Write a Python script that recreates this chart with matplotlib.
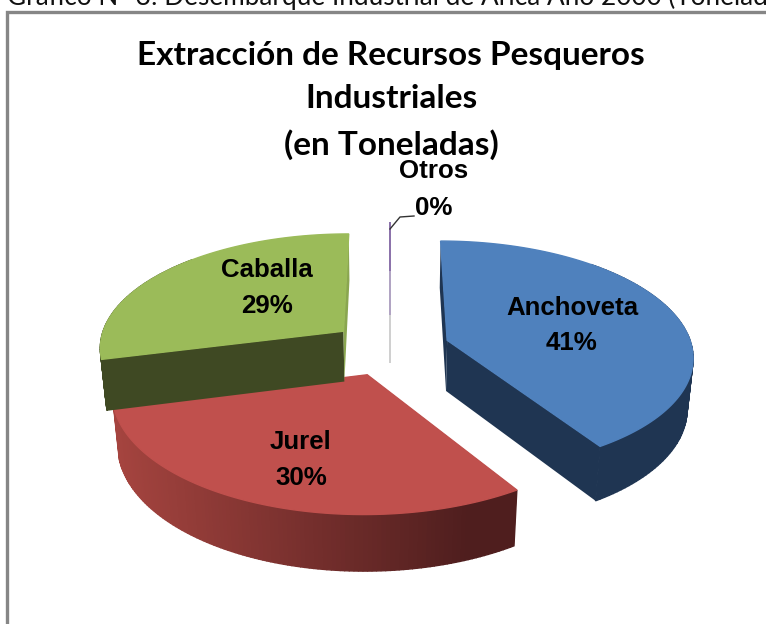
import matplotlib
matplotlib.use('Agg')
import matplotlib.pyplot as plt
from matplotlib.patches import Polygon
from matplotlib.colors import to_rgb
import numpy as np

# shares
categories = ['Anchoveta', 'Jurel', 'Caballa', 'Otros']
shares = [41, 30, 29, 0]
top_colors = ['#4F81BD', '#C0504D', '#9BBB59', '#8064A2']
side_colors = ['#1F3552', '#A5443F', '#3F4923', '#8064A2']
title_lines = ['Extracción de Recursos Pesqueros', 'Industriales', '(en Toneladas)']
caption = 'Gráfico N° 3: Desembarque Industrial de Arica Año 2000 (Toneladas)'

# pie projection, in pixels of the picture
cx, cy = 390, 348
a, b = 245, 114
k = 0.13       # perspective
depth = 52
explode = 0.245


def project(X, Y, h=0.0):
    s = 1.0 / (1 + k * Y + 0.02 * h)
    return cx + a * X * s, cy - (b * Y - depth * h) * s


def lerp(c1, c2, f):
    c1, c2 = np.array(to_rgb(c1)), np.array(to_rgb(c2))
    return tuple(c1 + (c2 - c1) * f)


fig = plt.figure(figsize=(7.66, 6.24), dpi=100)
ax = fig.add_axes([0, 0, 1, 1])
ax.set_xlim(0, 766)
ax.set_ylim(624, 0)
ax.axis('off')

ends = np.cumsum(shares) / np.sum(shares) * 2 * np.pi
starts = ends - np.array(shares) / np.sum(shares) * 2 * np.pi


def draw_slice(i):
    t1, t2 = starts[i], ends[i]
    mid = (t1 + t2) / 2
    ox, oy = explode * np.sin(mid), explode * np.cos(mid)
    th = np.linspace(t1, t2, 120)
    rx, ry = ox + np.sin(th), oy + np.cos(th)

    # radial faces first, they sit behind the rim
    for t in (t1, t2):
        ex, ey = ox + np.sin(t), oy + np.cos(t)
        pts = [project(ox, oy), project(ex, ey), project(ex, ey, 1), project(ox, oy, 1)]
        col = side_colors[i] if i != 2 or t != t2 else '#8AA650'
        if i == 1:
            col = '#4F1E1E' if t == t1 else '#A5443F'
        ax.add_patch(Polygon(pts, closed=True, fc=col, ec='none', zorder=2 + i))

    # outer rim in small pieces so the red one can carry its gradient
    for j in range(len(th) - 1):
        if ry[j] + ry[j + 1] > 2 * oy + 0.3 and abs(rx[j]) < 0.9 and i != 1:
            continue
        pts = [project(rx[j], ry[j]), project(rx[j + 1], ry[j + 1]),
               project(rx[j + 1], ry[j + 1], 1), project(rx[j], ry[j], 1)]
        if i == 1:
            f = np.clip((pts[0][0] - 115) / (470 - 115), 0, 1)
            col = lerp('#A5443F', '#4F1E1E', f)
        else:
            col = side_colors[i]
        ax.add_patch(Polygon(pts, closed=True, fc=col, ec=col, lw=1.0, zorder=2 + i))

    # top face
    pts = [project(ox, oy)] + [project(x, y) for x, y in zip(rx, ry)]
    ax.add_patch(Polygon(pts, closed=True, fc=top_colors[i], ec=top_colors[i], lw=1.0, zorder=2.5 + i))


# back to front
draw_slice(2)
draw_slice(0)
draw_slice(1)

# the zero slice is only a line
mid = starts[3]
ox, oy = explode * np.sin(mid), explode * np.cos(mid)
xa, ya = project(ox + np.sin(mid), oy + np.cos(mid))
xb, yb = project(ox, oy)
xc, yc = project(ox, oy, 1)
ax.plot([xa, xa], [ya - 4, yb - 50], color=top_colors[3], lw=1.3, zorder=2, solid_capstyle='butt')
ax.plot([xa, xa], [yb - 50, yb - 6], color='#A99BBD', lw=1.3, zorder=2, solid_capstyle='butt')
ax.plot([xa, xa], [yb - 6, yc - 8], color='#CCCCCC', lw=1.3, zorder=2, solid_capstyle='butt')

# frame, it runs off the picture right and below
ax.plot([766, 6.5, 6.5], [11.5, 11.5, 624], color='#868686', lw=2.4, solid_joinstyle='miter')

ax.text(7, 5, caption, fontsize=18.8, family='Lato', color='#111111', ha='left', va='baseline')

for line, y in zip(title_lines, [56, 99, 145]):
    ax.text(391, y, line, fontsize=24, family='Lato', fontweight='bold', color='black',
            ha='center', va='center', zorder=20)

label_x = [572, 301, 267, 434]
label_y = [308, 442, 270, 171]
pct_y = [343, 478, 306, 208]
for i, name in enumerate(categories):
    ax.text(label_x[i], label_y[i], name, fontsize=18.6, family='Liberation Sans', fontweight='bold',
            ha='center', va='center', zorder=20)
    ax.text(label_x[i], pct_y[i], str(shares[i]) + '%', fontsize=18.6, family='Liberation Sans',
            fontweight='bold', ha='center', va='center', zorder=20)

# leader line for Otros
ax.plot([414, 400, xa], [216, 217, 229], color='#333333', lw=1, zorder=6)

fig.savefig('out.png', dpi=100, facecolor='white')
